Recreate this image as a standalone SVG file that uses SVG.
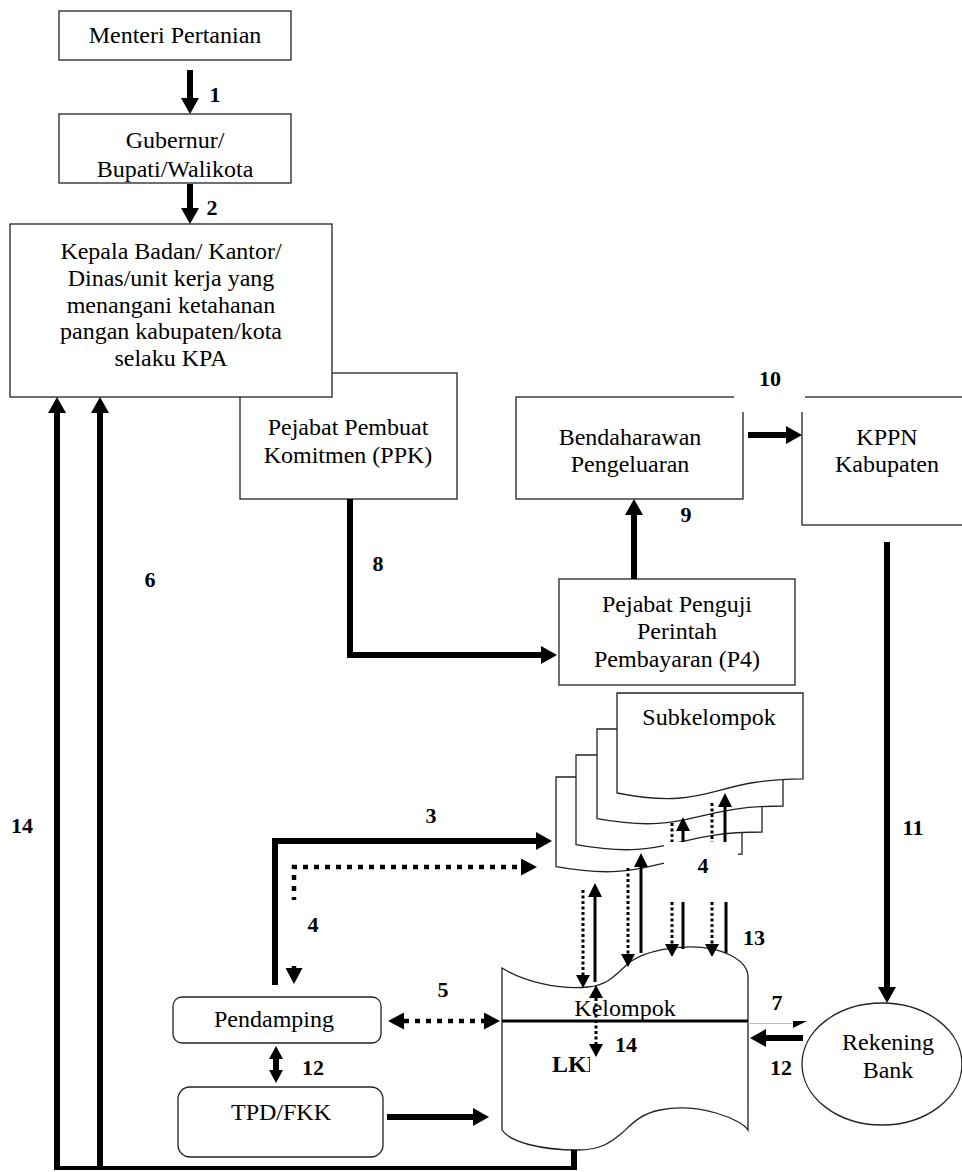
<svg xmlns="http://www.w3.org/2000/svg" width="962" height="1172" viewBox="0 0 962 1172">
<style>
  .box{fill:#fff;stroke:#222;stroke-width:1.3}
  .t{font-family:"Liberation Serif","Times New Roman",serif;font-size:24px;fill:#000;text-anchor:middle}
  .n{font-family:"Liberation Serif","Times New Roman",serif;font-size:22px;font-weight:bold;fill:#000;text-anchor:middle}
  .thick{fill:none;stroke:#000;stroke-width:6}
  .thin{fill:none;stroke:#000;stroke-width:3}
  .dot{fill:none;stroke:#000;stroke-width:4.5;stroke-dasharray:5 6}
  .dots{fill:none;stroke:#000;stroke-width:3;stroke-dasharray:3 2.5}
  .mask{fill:#fff}
</style>
<defs>
  <marker id="ah" viewBox="0 0 16 18" refX="0" refY="9" markerWidth="16" markerHeight="18" markerUnits="userSpaceOnUse" orient="auto-start-reverse"><path d="M0,0L16,9L0,18Z"/></marker>
  <marker id="as" viewBox="0 0 14 14" refX="0" refY="7" markerWidth="14" markerHeight="14" markerUnits="userSpaceOnUse" orient="auto-start-reverse"><path d="M0,0L14,7L0,14Z"/></marker>
  <marker id="ad" viewBox="0 0 16 17" refX="0" refY="8.5" markerWidth="16" markerHeight="17" markerUnits="userSpaceOnUse" orient="auto-start-reverse"><path d="M0,0L16,8.5L0,17Z"/></marker>
  <marker id="ads" viewBox="0 0 13 14" refX="0" refY="7" markerWidth="13" markerHeight="14" markerUnits="userSpaceOnUse" orient="auto-start-reverse"><path d="M0,0L13,7L0,14Z"/></marker>
  <clipPath id="lkmClip"><rect x="540" y="1040" width="50" height="40"/></clipPath>
</defs>

<!-- nodes -->
<g id="menteri">
  <rect class="box" x="59" y="11" width="232" height="49"/>
  <text class="t" x="175" y="43">Menteri Pertanian</text>
</g>
<g id="gubernur">
  <rect class="box" x="59" y="114" width="232" height="69"/>
  <text class="t" x="175" y="148">Gubernur/</text>
  <text class="t" x="175" y="177">Bupati/Walikota</text>
</g>
<g id="ppk">
  <rect class="box" x="240" y="373" width="217" height="126"/>
  <text class="t" x="348" y="435">Pejabat Pembuat</text>
  <text class="t" x="348" y="463">Komitmen (PPK)</text>
</g>
<g id="kpa">
  <rect class="box" x="10" y="224" width="322" height="173"/>
  <text class="t" x="171" y="259">Kepala Badan/ Kantor/</text>
  <text class="t" x="171" y="286">Dinas/unit kerja yang</text>
  <text class="t" x="171" y="313">menangani ketahanan</text>
  <text class="t" x="171" y="339">pangan kabupaten/kota</text>
  <text class="t" x="171" y="366">selaku KPA</text>
</g>
<g id="bendaharawan">
  <rect class="box" x="516" y="397" width="227" height="102"/>
  <text class="t" x="630" y="445">Bendaharawan</text>
  <text class="t" x="630" y="472">Pengeluaran</text>
</g>
<g id="kppn">
  <rect class="box" x="802" y="397" width="170" height="128"/>
  <text class="t" x="887" y="445">KPPN</text>
  <text class="t" x="887" y="472">Kabupaten</text>
</g>
<g id="p4">
  <rect class="box" x="559" y="579" width="236" height="106"/>
  <text class="t" x="677" y="612">Pejabat Penguji</text>
  <text class="t" x="677" y="639">Perintah</text>
  <text class="t" x="677" y="667">Pembayaran (P4)</text>
</g>
<g id="subkelompok">
  <path class="box" d="M556,777H742V854C649,854 649,883.3 556,866.7Z"/>
  <path class="box" d="M576,755H762V832C669,832 669,861.3 576,844.7Z"/>
  <path class="box" d="M597,729H783V806C690,806 690,835.3 597,818.7Z"/>
  <path class="box" d="M617,693H803V778.8C710,778.8 710,811.4 617,793Z"/>
  <text class="t" x="709" y="725">Subkelompok</text>
</g>
<g id="kelompok">
  <path class="box" d="M502,968C525,982 560,990 588,987C610,985 618,972 630,962C650,948 700,940 730,955C742,961 748,968 748,977V1130C742,1120 700,1102 660,1110C640,1114 632,1124 622,1133C610,1143 600,1150 578,1150C540,1150 510,1142 502,1130Z"/>
  <text class="t" x="625" y="1016">Kelompok</text>
  <path d="M502,1021H748" fill="none" stroke="#000" stroke-width="3"/>
  <text class="t" x="552" y="1072" style="text-anchor:start;font-weight:bold" clip-path="url(#lkmClip)">LKM</text>
</g>
<g id="pendamping">
  <rect class="box" x="173" y="997" width="208" height="46" rx="9"/>
  <text class="t" x="274" y="1027">Pendamping</text>
</g>
<g id="tpd-fkk">
  <rect class="box" x="178" y="1087" width="205" height="70" rx="12"/>
  <text class="t" x="281" y="1120">TPD/FKK</text>
</g>
<g id="rekening-bank">
  <ellipse class="box" cx="882" cy="1064" rx="80" ry="61"/>
  <text class="t" x="888" y="1050">Rekening</text>
  <text class="t" x="888" y="1078">Bank</text>
</g>

<!-- connectors -->
<g id="connectors">
  <path class="thick" d="M190,70V98" marker-end="url(#ah)"/>
  <path class="thick" d="M190,184V208" marker-end="url(#ah)"/>
  <path class="thick" d="M275,985V841H536" marker-end="url(#ah)"/>
  <path class="dot" d="M294,968V867H521" marker-start="url(#ad)" marker-end="url(#ad)"/>
  <path class="dot" d="M404,1021H484" marker-start="url(#ad)" marker-end="url(#ad)"/>
  <path class="thick" d="M100,1166V413" marker-end="url(#ah)"/>
  <path class="thick" d="M57,1166V413" marker-end="url(#ah)"/>
  <path class="thick" d="M574,1150V1169"/>
  <path d="M54,1168H577" fill="none" stroke="#000" stroke-width="4"/>
  <path class="thick" d="M350,499V655H541" marker-end="url(#ah)"/>
  <path class="thick" d="M634,579V515" marker-end="url(#ah)"/>
  <path class="thick" d="M748,435H786" marker-end="url(#ah)"/>
  <path class="thick" d="M887,542V987" marker-end="url(#ah)"/>
  <path class="thick" d="M387,1117H473" marker-end="url(#ah)"/>
  <path class="thick" d="M276,1059V1070" marker-start="url(#ads)" marker-end="url(#ads)"/>
  <path class="thick" d="M803,1038H766" marker-end="url(#ah)"/>
  <path d="M748,1023.5H795" fill="none" stroke="#bbb" stroke-width="1"/>
  <path d="M793,1021L807,1021L793,1028Z" fill="#000"/>
  <!-- subgroup / group exchanges -->
  <path class="thin" d="M595,982V897" marker-end="url(#as)"/>
  <path class="dots" d="M583,890V975" marker-end="url(#ads)"/>
  <path class="thin" d="M641,953V867" marker-end="url(#as)"/>
  <path class="dots" d="M628,868V954" marker-end="url(#ads)"/>
  <path class="thin" d="M683,842V831" marker-end="url(#as)"/>
  <path class="dots" d="M672,823V842"/>
  <path class="thin" d="M725,842V807" marker-end="url(#as)"/>
  <path class="dots" d="M712,803V842"/>
  <path class="dots" d="M672,902V944" marker-end="url(#ads)"/>
  <path class="dots" d="M712,902V944" marker-end="url(#ads)"/>
  <path class="thin" d="M683,902V949"/>
  <path class="thin" d="M726,902V953"/>
  <path class="dots" d="M596,998V1044" marker-start="url(#ads)" marker-end="url(#ads)"/>
</g>

<!-- label backgrounds and step numbers -->
<g id="labels">
  <rect class="mask" x="734" y="360" width="71" height="52"/>
  <rect class="mask" x="664" y="842" width="74" height="60"/>
  <rect class="mask" x="282" y="900" width="58" height="66"/>
  <text class="n" x="215" y="102">1</text>
  <text class="n" x="212" y="215">2</text>
  <text class="n" x="431" y="823">3</text>
  <text class="n" x="703" y="873">4</text>
  <text class="n" x="313" y="932">4</text>
  <text class="n" x="443" y="997">5</text>
  <text class="n" x="150" y="587">6</text>
  <text class="n" x="777" y="1010">7</text>
  <text class="n" x="378" y="571">8</text>
  <text class="n" x="686" y="522">9</text>
  <text class="n" x="770" y="386">10</text>
  <text class="n" x="913" y="835">11</text>
  <text class="n" x="313" y="1075">12</text>
  <text class="n" x="781" y="1075">12</text>
  <text class="n" x="754" y="945">13</text>
  <text class="n" x="22" y="833">14</text>
  <text class="n" x="626" y="1052">14</text>
</g>
</svg>
